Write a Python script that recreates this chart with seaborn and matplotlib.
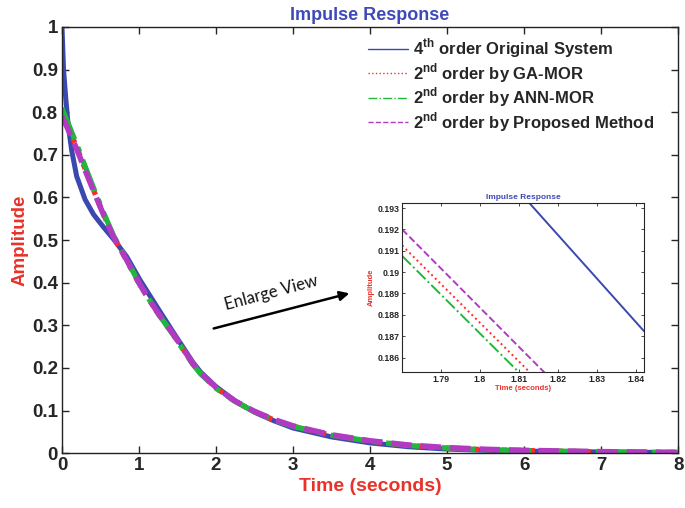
import numpy as np
import pandas as pd
import matplotlib
matplotlib.use("Agg")
import matplotlib.pyplot as plt
import seaborn as sns

# Values
t = [0, 0.02, 0.05, 0.08, 0.126, 0.19, 0.3, 0.41, 0.54, 0.67, 0.84, 1.01, 1.23, 1.45,
     1.7, 1.8, 2.0, 2.25, 2.5, 2.75, 3.0, 3.5, 4.0, 4.5, 5.0, 5.5, 6.0, 6.5, 7.0, 7.5, 8.0]
original = [1.0, 0.9, 0.83, 0.77, 0.71, 0.65, 0.595, 0.56, 0.53, 0.502, 0.461, 0.407, 0.344, 0.282,
            0.213, 0.19, 0.156, 0.122, 0.096, 0.076, 0.059, 0.038, 0.024, 0.015, 0.0095,
            0.0065, 0.0048, 0.0037, 0.0028, 0.002, 0.0015]
ga_mor = [0.80, 0.79, 0.778, 0.765, 0.745, 0.718, 0.667, 0.617, 0.56, 0.507, 0.452, 0.395, 0.332, 0.277,
          0.209, 0.187, 0.153, 0.121, 0.097, 0.078, 0.063, 0.042, 0.028, 0.018, 0.012,
          0.008, 0.006, 0.0045, 0.003, 0.0022, 0.0016]
ann_mor = [0.81, 0.80, 0.787, 0.774, 0.753, 0.725, 0.673, 0.622, 0.564, 0.51, 0.454, 0.396, 0.332, 0.276,
           0.208, 0.186, 0.152, 0.121, 0.097, 0.078, 0.063, 0.042, 0.028, 0.018, 0.012,
           0.008, 0.006, 0.0045, 0.003, 0.0022, 0.0016]
proposed = [0.79, 0.782, 0.771, 0.759, 0.74, 0.714, 0.664, 0.615, 0.559, 0.507, 0.453, 0.396, 0.333, 0.278,
            0.210, 0.188, 0.154, 0.122, 0.098, 0.079, 0.064, 0.043, 0.029, 0.019, 0.013,
            0.009, 0.0065, 0.005, 0.0035, 0.0025, 0.0018]

# enlarged view
zoom_t_orig = [1.8128, 1.842]
zoom_orig = [0.1932, 0.18724]
zoom_t_ga = [1.78, 1.8128]
zoom_ga = [0.19125, 0.1853]
zoom_t_ann = [1.78, 1.810]
zoom_ann = [0.19076, 0.1853]
zoom_t_prop = [1.78, 1.8165]
zoom_prop = [0.1920, 0.1853]

labels = [r"4$^{\mathbf{th}}$ order Original System",
          r"2$^{\mathbf{nd}}$ order by GA-MOR",
          r"2$^{\mathbf{nd}}$ order by ANN-MOR",
          r"2$^{\mathbf{nd}}$ order by Proposed Method"]
colors = ["#3a48b0", "#ff2a2a", "#1fb83a", "#b23ac2"]
styles = ["-", ":", "-.", "--"]

sns.set_style("ticks")
plt.rcParams["font.family"] = ["Liberation Sans", "DejaVu Sans"]
plt.rcParams["font.weight"] = "bold"
plt.rcParams["mathtext.fontset"] = "custom"
plt.rcParams["mathtext.bf"] = "Liberation Sans:bold"
plt.rcParams["mathtext.rm"] = "Liberation Sans:bold"
plt.rcParams["xtick.direction"] = "in"
plt.rcParams["ytick.direction"] = "in"

fig = plt.figure(figsize=(6.85, 5.08), dpi=100)
ax = fig.add_axes([0.0905, 0.108, 0.8995, 0.839])

series = [original, ga_mor, ann_mor, proposed]
widths = [3.6, 3.8, 3.8, 4.0]
for lab, vals, c, ls, lw in zip(labels, series, colors, styles, widths):
    df = pd.DataFrame({"t": t, "y": vals})
    sns.lineplot(data=df, x="t", y="y", ax=ax, color=c, linestyle=ls, linewidth=lw,
                 label=lab, legend=False)

ax.set_xlim(0, 8)
ax.set_ylim(0, 1)
ax.set_xticks(range(0, 9))
ax.set_yticks(np.arange(0, 1.01, 0.1))
ax.set_yticklabels(["0", "0.1", "0.2", "0.3", "0.4", "0.5", "0.6", "0.7", "0.8", "0.9", "1"])
ax.tick_params(labelsize=13.5, top=True, right=True, length=5, width=1, pad=3)
for lab in ax.get_xticklabels() + ax.get_yticklabels():
    lab.set_fontweight("bold")
for s in ax.spines.values():
    s.set_linewidth(1)
    s.set_color("#222222")
ax.set_title("Impulse Response", color="#3f49b8", fontsize=13, fontweight="bold", pad=5)
ax.set_xlabel("Time (seconds)", color="#e8322a", fontsize=14, fontweight="bold", labelpad=3)
ax.set_ylabel("Amplitude", color="#e8322a", fontsize=13.5, fontweight="bold", labelpad=2)

handles = [plt.Line2D([], [], color=c, linestyle=ls, linewidth=1) for c, ls in zip(colors, styles)]
ax.legend(handles, labels, loc="upper left", bbox_to_anchor=(0.516, 0.957),
          bbox_transform=fig.transFigure, frameon=False,
          handlelength=2.4, handletextpad=0.25, labelspacing=0.05,
          prop={"weight": "bold", "size": 12})

# Enlarge view arrow
ax.annotate("", xy=(0.514, 0.424), xytext=(0.308, 0.352),
            xycoords="figure fraction", textcoords="figure fraction",
            arrowprops=dict(arrowstyle="-|>", color="black", lw=1.8, mutation_scale=14))
fig.text(0.396, 0.424, "Enlarge View", rotation=15, ha="center", va="center",
         fontsize=12, family="Lato", fontweight="normal", color="#111111")

# inset
ins = fig.add_axes([0.587, 0.268, 0.353, 0.333])
zoom_sets = [(zoom_t_orig, zoom_orig), (zoom_t_ga, zoom_ga), (zoom_t_ann, zoom_ann), (zoom_t_prop, zoom_prop)]
for (zt, zy), c, ls in zip(zoom_sets, colors, styles):
    df = pd.DataFrame({"t": zt, "y": zy})
    sns.lineplot(data=df, x="t", y="y", ax=ins, color=c, linestyle=ls, linewidth=1.4, legend=False)
ins.set_xlim(1.780, 1.842)
ins.set_ylim(0.18533, 0.19325)
ins.set_xticks([1.79, 1.80, 1.81, 1.82, 1.83, 1.84])
ins.set_xticklabels(["1.79", "1.8", "1.81", "1.82", "1.83", "1.84"])
ins.set_yticks([0.186, 0.187, 0.188, 0.189, 0.19, 0.191, 0.192, 0.193])
ins.set_yticklabels(["0.186", "0.187", "0.188", "0.189", "0.19", "0.191", "0.192", "0.193"])
ins.tick_params(labelsize=6.3, top=True, right=True, length=2.5, width=0.6, pad=2)
for s in ins.spines.values():
    s.set_linewidth(0.8)
ins.set_title("Impulse Response", color="#3f49b8", fontsize=6, fontweight="bold", pad=3)
ins.set_xlabel("Time (seconds)", color="#e8322a", fontsize=5.5, fontweight="bold", labelpad=1)
ins.set_ylabel("Amplitude", color="#e8322a", fontsize=5.5, fontweight="bold", labelpad=2)

fig.savefig("out.png", dpi=100)
